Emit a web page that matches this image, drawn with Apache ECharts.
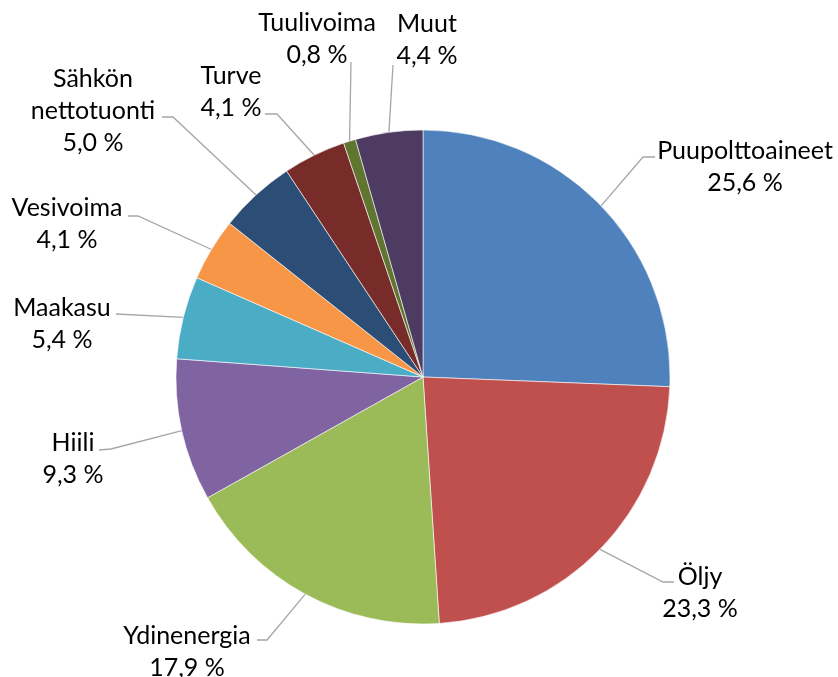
<!DOCTYPE html>
<html>
<head>
<meta charset="utf-8">
<script src="https://cdn.jsdelivr.net/npm/echarts@6/dist/echarts.min.js"></script>
<style>
html,body{margin:0;padding:0;background:#fff;}
#chart{width:838px;height:677px;}
</style>
</head>
<body>
<div id="chart"></div>
<script>
const categories = ["Puupolttoaineet","Öljy","Ydinenergia","Hiili","Maakasu","Vesivoima","Sähkön nettotuonti","Turve","Tuulivoima","Muut"];
const values = [25.6, 23.3, 17.9, 9.3, 5.4, 4.1, 5.0, 4.1, 0.8, 4.4];
const colors = ["#4F81BD","#C0504D","#9BBB59","#8064A2","#4BACC6","#F79646","#2C4D75","#772C2A","#5F7530","#4D3B62"];

// label block centre (x,y), leader elbow (x,y), leader end (x,y)
const labelLayoutPts = [
  [745,167, 643,157, 655,157],
  [700,593, 663,582, 674,582],
  [187,652, 267,640, 257,640],
  [73,459, 111,449, 99,450],
  [62,324, 116,314, 116,314],
  [67,224, 138,216, 128,216],
  [93,111, 173,117, 162,117],
  [231,92, 277,114, 265,114],
  [317,39, 351,62, 351,62],
  [427,40, 393,65, 393,65]
];

const chart = echarts.init(document.getElementById('chart'), null, {renderer:'canvas'});
chart.setOption({
  animation: false,
  backgroundColor: '#fff',
  series: [{
    type: 'pie',
    center: [423, 377],
    radius: 247,
    startAngle: 90,
    clockwise: true,
    avoidLabelOverlap: false,
    data: categories.map((c, i) => ({name: c, value: values[i], itemStyle: {color: colors[i]}})),
    itemStyle: {borderColor: '#ffffff', borderWidth: 0.6},
    label: {
      show: true,
      position: 'outside',
      fontFamily: 'Lato',
      fontSize: 25,
      lineHeight: 32,
      color: '#000',
      align: 'center',
      formatter: p => p.name.replace(' ', '\n') + '\n' + p.value.toFixed(1).replace('.', ',') + ' %'
    },
    labelLine: {show: true, length: 20, length2: 10, lineStyle: {color: '#A6A6A6', width: 1.3}},
    emphasis: {disabled: true}
  }]
});
chart.setOption({
  series: [{
    labelLayout: function (params) {
      const L = labelLayoutPts[params.dataIndex];
      const start = params.labelLinePoints ? params.labelLinePoints[0] : [L[2], L[3]];
      return {
        x: L[0], y: L[1], align: 'center', verticalAlign: 'middle',
        labelLinePoints: [start, [L[2], L[3]], [L[4], L[5]]]
      };
    }
  }]
});
</script>
</body>
</html>
